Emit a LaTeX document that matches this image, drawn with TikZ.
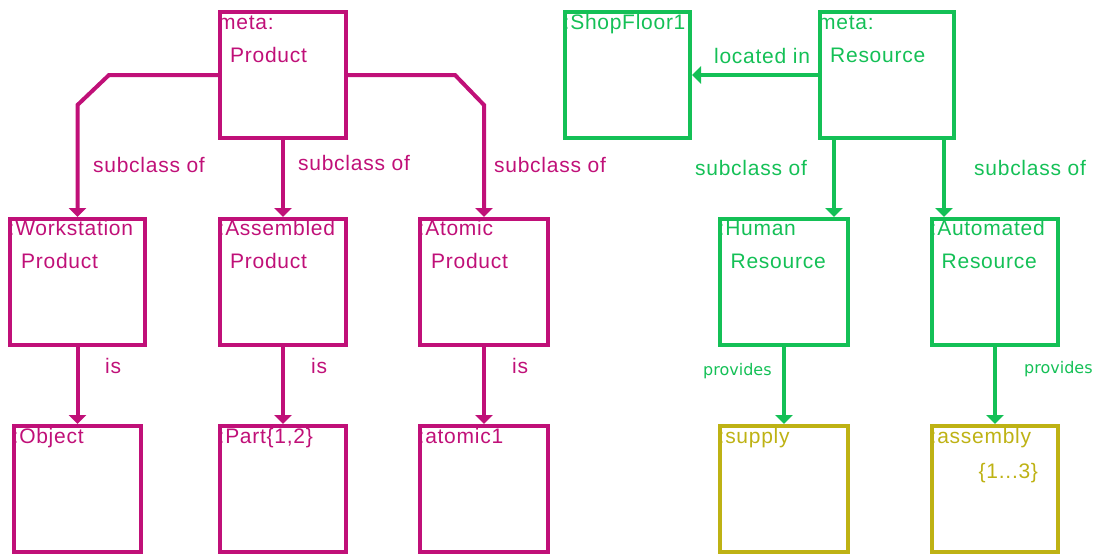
\documentclass[tikz,border=0pt]{standalone}
\usepackage{fontspec}
\setmainfont{Liberation Sans}[LetterSpace=3.5]
\newfontfamily\smallfont{DejaVu Sans}
\usetikzlibrary{arrows.meta}
\definecolor{prod}{RGB}{192,16,120}
\definecolor{resc}{RGB}{20,192,86}
\definecolor{capc}{RGB}{190,178,20}

\begin{document}
\begin{tikzpicture}[x=1pt,y=-1pt,
  box/.style={draw,line width=4pt,inner sep=0pt,minimum height=126pt,minimum width=126pt},
  lbl/.style={inner sep=0pt,anchor=base west,font=\fontsize{21}{25}\selectfont},
  small/.style={inner sep=0pt,anchor=base west,font=\smallfont\fontsize{16}{19}\selectfont},
  arr/.style={line width=4pt,-{Triangle[length=9pt 0 0,width=17pt 0 0]}},
]
\useasboundingbox (0,0) rectangle (1099,557);

% ---------- product side ----------
\begin{scope}[prod]
\node[box] (mp)   at (283,75) {};
\node[box,minimum width=135pt] (wp) at (77.5,282) {};
\node[box] (asm)  at (283,282) {};
\node[box,minimum width=128pt] (ap) at (484,282) {};
\node[box,minimum width=127pt] (obj) at (77.5,489) {};
\node[box] (part) at (283,489) {};
\node[box,minimum width=128pt] (at1) at (484,489) {};

\node[lbl] (mpa) at ([shift={(0,19)}]mp.north west) {meta:};
\node[lbl] (mpb) at ([shift={(12,52)}]mp.north west) {Product};
\node[lbl] (wpa) at ([shift={(0.5,18.5)}]wp.north west) {:Workstation};
\node[lbl] (wpb) at ([shift={(13,51.5)}]wp.north west) {Product};
\node[lbl] (asa) at ([shift={(0.5,18.5)}]asm.north west) {:Assembled};
\node[lbl] (asb) at ([shift={(12,51.5)}]asm.north west) {Product};
\node[lbl] (apa) at ([shift={(0.5,18.5)}]ap.north west) {:Atomic};
\node[lbl] (apb) at ([shift={(13,51.5)}]ap.north west) {Product};
\node[lbl] (obja) at ([shift={(0.5,19.5)}]obj.north west) {:Object};
\node[lbl] (parta) at ([shift={(0.5,19.5)}]part.north west) {:Part\{1,2\}};
\node[lbl] (at1a) at ([shift={(0.5,19.5)}]at1.north west) {:atomic1};

% subclass links from the meta class
\draw[arr] (mp.west) -- (109,75) -- (wp.north |- 0,105) -- (wp.north);
\draw[arr] (mp.east) -- (455,75) -- (ap.north |- 0,105) -- (ap.north);
\draw[arr] (mp.south) -- (asm.north);
% instance links
\draw[arr] (wp.south) -- (obj.north);
\draw[arr] (asm.south) -- (part.north);
\draw[arr] (ap.south) -- (at1.north);

\node[lbl] (sc1) at (93,172) {subclass of};
\node[lbl] (sc2) at (298,170) {subclass of};
\node[lbl] (sc3) at (494,172) {subclass of};
\node[lbl] (is1) at (105,373) {is};
\node[lbl] (is2) at (311,373) {is};
\node[lbl] (is3) at (512,373) {is};
\end{scope}

% ---------- resource side ----------
\begin{scope}[resc]
\node[box,minimum width=125pt] (sf)  at (627.5,75) {};
\node[box,minimum width=134pt] (res) at (887,75) {};
\node[box,minimum width=128pt] (hr)  at (784,282) {};
\node[box] (aut) at (995,282) {};

\node[lbl] (sfa)  at ([shift={(0.5,19)}]sf.north west) {:ShopFloor1};
\node[lbl] (resa) at ([shift={(0,19)}]res.north west) {meta:};
\node[lbl] (resb) at ([shift={(12,52)}]res.north west) {Resource};
\node[lbl] (hra)  at ([shift={(0.5,18.5)}]hr.north west) {:Human};
\node[lbl] (hrb)  at ([shift={(12.5,51.5)}]hr.north west) {Resource};
\node[lbl] (auta) at ([shift={(0.5,18.5)}]aut.north west) {:Automated};
\node[lbl] (autb) at ([shift={(11.5,51.5)}]aut.north west) {Resource};

\draw[arr] (res.west) -- (sf.east);
\draw[arr] (res.south -| 834,0) -- (hr.north -| 834,0);
\draw[arr] (res.south -| 944,0) -- (aut.north -| 944,0);
\end{scope}

% capabilities
\begin{scope}[capc]
\node[box,minimum width=128pt] (sup) at (784,489) {};
\node[box] (asy) at (995,489) {};
\node[lbl] (supa) at ([shift={(0.5,19.5)}]sup.north west) {:supply};
\node[lbl] (asya) at ([shift={(0.5,19.5)}]asy.north west) {:assembly};
\node[lbl] (asyb) at ([shift={(48.5,54)}]asy.north west) {\{1{.}{.}{.}3\}};
\end{scope}

\begin{scope}[resc]
\draw[arr] (hr.south) -- (sup.north);
\draw[arr] (aut.south) -- (asy.north);
\node[lbl] (loc) at (714,63) {located in};
\node[lbl] (sc4) at (695,175) {subclass of};
\node[lbl] (sc5) at (974,175) {subclass of};
\node[small] (pv1) at (703,375) {provides};
\node[small] (pv2) at (1024,373) {provides};
\end{scope}
\end{tikzpicture}
\end{document}
